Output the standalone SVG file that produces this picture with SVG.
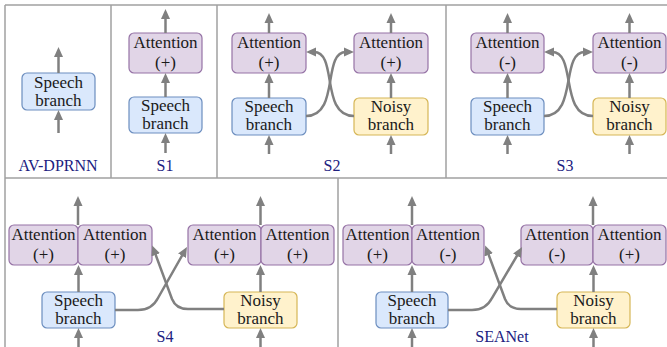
<svg xmlns="http://www.w3.org/2000/svg" width="667" height="347" viewBox="0 0 667 347">
  <defs>
    <marker id="arr" markerUnits="userSpaceOnUse" markerWidth="10" markerHeight="10" viewBox="0 0 10 10" refX="2" refY="5" orient="auto">
      <path d="M0,0.5 L10,5 L0,9.5 z" fill="#808080"/>
    </marker>
    <style>
      .frame { stroke: #a0a0a0; stroke-width: 1.5; fill: none; }
      .speech { fill: #dae8fc; stroke: #6c8ebf; stroke-width: 1.2; }
      .noisy { fill: #fff2cc; stroke: #d6b656; stroke-width: 1.2; }
      .att { fill: #e1d5e7; stroke: #9673a6; stroke-width: 1.2; }
      .t { font-family: "Liberation Serif", "Times New Roman", serif; font-size: 17px; fill: #1a1a1a; text-anchor: middle; }
      .lab { font-family: "Liberation Serif", "Times New Roman", serif; font-size: 16px; fill: #20207f; text-anchor: middle; }
      .c { stroke: #808080; stroke-width: 2.5; fill: none; marker-end: url(#arr); }
    </style>
  </defs>

  <rect width="667" height="347" fill="#ffffff"/>

  <!-- panel frame -->
  <g id="frame" class="frame">
    <line x1="5" y1="5" x2="667" y2="5"/>
    <line x1="5" y1="5" x2="5" y2="347"/>
    <line x1="111" y1="5" x2="111" y2="178"/>
    <line x1="217" y1="5" x2="217" y2="178"/>
    <line x1="446" y1="5" x2="446" y2="178"/>
    <line x1="5" y1="178" x2="667" y2="178"/>
    <line x1="338" y1="178" x2="338" y2="347"/>
  </g>

  <!-- AV-DPRNN -->
  <g id="avdprnn-speech">
    <rect class="speech" x="22" y="73" width="73" height="37" rx="5"/>
    <text class="t" x="58.5" y="88">Speech</text>
    <text class="t" x="58.5" y="106">branch</text>
  </g>

  <!-- S1 -->
  <g id="s1-att">
    <rect class="att" x="129" y="33" width="73" height="40" rx="5"/>
    <text class="t" x="165.5" y="48">Attention</text>
    <text class="t" x="165.5" y="68">(+)</text>
  </g>
  <g id="s1-speech">
    <rect class="speech" x="129" y="97" width="73" height="36" rx="5"/>
    <text class="t" x="165.5" y="111">Speech</text>
    <text class="t" x="165.5" y="129">branch</text>
  </g>

  <!-- S2 -->
  <g id="s2-att-l">
    <rect class="att" x="232" y="33" width="74" height="40" rx="5"/>
    <text class="t" x="269" y="48">Attention</text>
    <text class="t" x="269" y="68">(+)</text>
  </g>
  <g id="s2-att-r">
    <rect class="att" x="354" y="33" width="74" height="40" rx="5"/>
    <text class="t" x="391" y="48">Attention</text>
    <text class="t" x="391" y="68">(+)</text>
  </g>
  <g id="s2-speech">
    <rect class="speech" x="232" y="98" width="74" height="37" rx="5"/>
    <text class="t" x="269" y="112">Speech</text>
    <text class="t" x="269" y="130">branch</text>
  </g>
  <g id="s2-noisy">
    <rect class="noisy" x="354" y="98" width="74" height="37" rx="5"/>
    <text class="t" x="391" y="112">Noisy</text>
    <text class="t" x="391" y="130">branch</text>
  </g>

  <!-- S3 -->
  <g id="s3-att-l">
    <rect class="att" x="471" y="33" width="73" height="40" rx="5"/>
    <text class="t" x="507.5" y="48">Attention</text>
    <text class="t" x="507.5" y="68">(-)</text>
  </g>
  <g id="s3-att-r">
    <rect class="att" x="593" y="33" width="73" height="40" rx="5"/>
    <text class="t" x="629.5" y="48">Attention</text>
    <text class="t" x="629.5" y="68">(-)</text>
  </g>
  <g id="s3-speech">
    <rect class="speech" x="471" y="98" width="73" height="37" rx="5"/>
    <text class="t" x="507.5" y="112">Speech</text>
    <text class="t" x="507.5" y="130">branch</text>
  </g>
  <g id="s3-noisy">
    <rect class="noisy" x="593" y="98" width="73" height="37" rx="5"/>
    <text class="t" x="629.5" y="112">Noisy</text>
    <text class="t" x="629.5" y="130">branch</text>
  </g>

  <!-- S4 -->
  <g id="s4-att-1">
    <rect class="att" x="9" y="225" width="69" height="40" rx="5"/>
    <text class="t" x="43.5" y="240">Attention</text>
    <text class="t" x="43.5" y="260">(+)</text>
  </g>
  <g id="s4-att-2">
    <rect class="att" x="78" y="225" width="74" height="40" rx="5"/>
    <text class="t" x="115" y="240">Attention</text>
    <text class="t" x="115" y="260">(+)</text>
  </g>
  <g id="s4-att-3">
    <rect class="att" x="188" y="225" width="73" height="40" rx="5"/>
    <text class="t" x="224.5" y="240">Attention</text>
    <text class="t" x="224.5" y="260">(+)</text>
  </g>
  <g id="s4-att-4">
    <rect class="att" x="261" y="225" width="73" height="40" rx="5"/>
    <text class="t" x="297.5" y="240">Attention</text>
    <text class="t" x="297.5" y="260">(+)</text>
  </g>
  <g id="s4-speech">
    <rect class="speech" x="42" y="292" width="73" height="36" rx="5"/>
    <text class="t" x="78.5" y="306">Speech</text>
    <text class="t" x="78.5" y="324">branch</text>
  </g>
  <g id="s4-noisy">
    <rect class="noisy" x="224" y="292" width="73" height="36" rx="5"/>
    <text class="t" x="260.5" y="306">Noisy</text>
    <text class="t" x="260.5" y="324">branch</text>
  </g>

  <!-- SEANet -->
  <g id="sea-att-1">
    <rect class="att" x="343" y="225" width="69" height="40" rx="5"/>
    <text class="t" x="377.5" y="240">Attention</text>
    <text class="t" x="377.5" y="260">(+)</text>
  </g>
  <g id="sea-att-2">
    <rect class="att" x="412" y="225" width="72" height="40" rx="5"/>
    <text class="t" x="448" y="240">Attention</text>
    <text class="t" x="448" y="260">(-)</text>
  </g>
  <g id="sea-att-3">
    <rect class="att" x="521" y="225" width="72" height="40" rx="5"/>
    <text class="t" x="557" y="240">Attention</text>
    <text class="t" x="557" y="260">(-)</text>
  </g>
  <g id="sea-att-4">
    <rect class="att" x="593" y="225" width="73" height="40" rx="5"/>
    <text class="t" x="629.5" y="240">Attention</text>
    <text class="t" x="629.5" y="260">(+)</text>
  </g>
  <g id="sea-speech">
    <rect class="speech" x="376" y="292" width="72" height="36" rx="5"/>
    <text class="t" x="412" y="306">Speech</text>
    <text class="t" x="412" y="324">branch</text>
  </g>
  <g id="sea-noisy">
    <rect class="noisy" x="557" y="292" width="73" height="36" rx="5"/>
    <text class="t" x="593.5" y="306">Noisy</text>
    <text class="t" x="593.5" y="324">branch</text>
  </g>

  <!-- panel captions -->
  <g id="captions">
    <text class="lab" x="58" y="171">AV-DPRNN</text>
    <text class="lab" x="165" y="171">S1</text>
    <text class="lab" x="332" y="171">S2</text>
    <text class="lab" x="565" y="171">S3</text>
    <text class="lab" x="165" y="342">S4</text>
    <text class="lab" x="502" y="342">SEANet</text>
  </g>

  <!-- connectors -->
  <g id="connectors">
    <!-- AV-DPRNN -->
    <line class="c" x1="58.5" y1="73" x2="58.5" y2="55"/>
    <line class="c" x1="58.5" y1="133" x2="58.5" y2="118"/>
    <!-- S1 -->
    <line class="c" x1="165.5" y1="33" x2="165.5" y2="17"/>
    <line class="c" x1="165.5" y1="97" x2="165.5" y2="81"/>
    <line class="c" x1="165.5" y1="153" x2="165.5" y2="141"/>
    <!-- S2 -->
    <line class="c" x1="269" y1="33" x2="269" y2="21"/>
    <line class="c" x1="391" y1="33" x2="391" y2="21"/>
    <line class="c" x1="269" y1="98" x2="269" y2="81"/>
    <line class="c" x1="391" y1="98" x2="391" y2="81"/>
    <line class="c" x1="269" y1="154" x2="269" y2="143"/>
    <line class="c" x1="391" y1="154" x2="391" y2="143"/>
    <path class="c" d="M306,116 C340,116 322,52 346,52"/>
    <path class="c" d="M354,116 C320,116 338,52 314,52"/>
    <!-- S3 -->
    <line class="c" x1="507.5" y1="33" x2="507.5" y2="21"/>
    <line class="c" x1="629.5" y1="33" x2="629.5" y2="21"/>
    <line class="c" x1="507.5" y1="98" x2="507.5" y2="81"/>
    <line class="c" x1="629.5" y1="98" x2="629.5" y2="81"/>
    <line class="c" x1="507.5" y1="154" x2="507.5" y2="143"/>
    <line class="c" x1="629.5" y1="154" x2="629.5" y2="143"/>
    <path class="c" d="M544,116 C578,116 560,52 585,52"/>
    <path class="c" d="M593,116 C559,116 577,52 552,52"/>
    <!-- S4 -->
    <line class="c" x1="78" y1="225" x2="78" y2="204"/>
    <line class="c" x1="260.5" y1="225" x2="260.5" y2="204"/>
    <line class="c" x1="78.5" y1="292" x2="78.5" y2="273"/>
    <line class="c" x1="260.5" y1="292" x2="260.5" y2="273"/>
    <line class="c" x1="78.5" y1="352" x2="78.5" y2="336"/>
    <line class="c" x1="260.5" y1="352" x2="260.5" y2="336"/>
    <path class="c" d="M115,310 L138,310 Q152,310 158,298 L183,254"/>
    <path class="c" d="M224,309 L188,309 Q176,309 172,299 L155,253"/>
    <!-- SEANet -->
    <line class="c" x1="412" y1="225" x2="412" y2="204"/>
    <line class="c" x1="593" y1="225" x2="593" y2="204"/>
    <line class="c" x1="412" y1="292" x2="412" y2="273"/>
    <line class="c" x1="593.5" y1="292" x2="593.5" y2="273"/>
    <line class="c" x1="412" y1="352" x2="412" y2="336"/>
    <line class="c" x1="593.5" y1="352" x2="593.5" y2="336"/>
    <path class="c" d="M448,310 L472,310 Q486,310 492,298 L518,254"/>
    <path class="c" d="M557,309 L521,309 Q509,309 505,299 L488,253"/>
  </g>
</svg>
